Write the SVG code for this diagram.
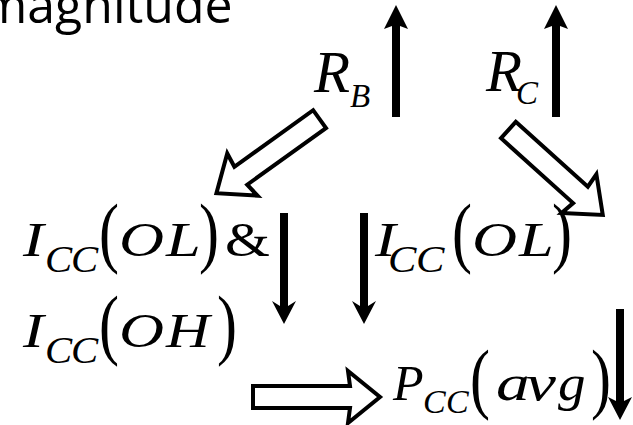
<svg xmlns="http://www.w3.org/2000/svg" width="633" height="425" viewBox="0 0 633 425">
<style>
.m{font-family:"Liberation Serif","Times New Roman",serif;font-style:italic;fill:#000}
.p{font-family:"Liberation Serif","Times New Roman",serif;fill:#000}
.t{font-family:"Open Sans","DejaVu Sans",sans-serif;fill:#000}
.solid{fill:#000;stroke:none}
.hollow{fill:#fff;stroke:#000;stroke-width:4;stroke-linejoin:miter;stroke-miterlimit:10}
</style>
<defs>
<path id="ha" d="M-130,-11 H-33 L-35,-26 L-3,0 L-35,26 L-33,11 H-130 Z"/>
</defs>
<rect width="633" height="425" fill="#fff"/>
<g id="title"><text class="t" x="-19" y="23" font-size="50">magnitude</text></g>
<g id="node-rb">
<text class="m" x="314" y="92" font-size="59">R</text>
<text class="m" x="350" y="107" font-size="33">B</text>
</g>
<g id="node-rc">
<text class="m" x="486" y="91" font-size="59">R</text>
<text class="m" x="516" y="104" font-size="33">C</text>
</g>
<g id="node-icc-ol-oh">
<text class="m" transform="matrix(1.3,0,0,1,23,256)" font-size="48">I</text>
<text class="m" transform="matrix(1.1,0,0,1,45,272)" font-size="37">C</text>
<text class="m" transform="matrix(1.1,0,0,1,71,272)" font-size="37">C</text>
<text class="p" transform="matrix(1.25,0,0,1.62,99,258)" font-size="48">(</text>
<text class="m" transform="matrix(1.3,0,0,1,119,256)" font-size="48">O</text>
<text class="m" transform="matrix(1.3,0,0,1,166,256)" font-size="48">L</text>
<text class="p" transform="matrix(1.25,0,0,1.62,199,258)" font-size="48">)</text>
<text class="p" transform="matrix(1.2,0,0,1,225,256)" font-size="48">&amp;</text>
<text class="m" transform="matrix(1.3,0,0,1,23,347)" font-size="48">I</text>
<text class="m" transform="matrix(1.1,0,0,1,45,363)" font-size="37">C</text>
<text class="m" transform="matrix(1.1,0,0,1,71,363)" font-size="37">C</text>
<text class="p" transform="matrix(1.25,0,0,1.62,99,350)" font-size="48">(</text>
<text class="m" transform="matrix(1.3,0,0,1,119,347)" font-size="48">O</text>
<text class="m" transform="matrix(1.26,0,0,1,166,347)" font-size="48">H</text>
<text class="p" transform="matrix(1.25,0,0,1.62,217,350)" font-size="48">)</text>
</g>
<g id="node-icc-ol">
<text class="m" transform="matrix(1.3,0,0,1,375,256)" font-size="48">I</text>
<text class="m" transform="matrix(1.15,0,0,1,388,272)" font-size="37">C</text>
<text class="m" transform="matrix(1.15,0,0,1,416,272)" font-size="37">C</text>
<text class="p" transform="matrix(1.25,0,0,1.62,452,258)" font-size="48">(</text>
<text class="m" transform="matrix(1.3,0,0,1,472,256)" font-size="48">O</text>
<text class="m" transform="matrix(1.3,0,0,1,519,256)" font-size="48">L</text>
<text class="p" transform="matrix(1.25,0,0,1.62,552,258)" font-size="48">)</text>
</g>
<g id="node-pcc">
<text class="m" x="393" y="400" font-size="50">P</text>
<text class="m" x="423" y="413" font-size="34">C</text>
<text class="m" x="446" y="413" font-size="34">C</text>
<text class="p" transform="matrix(1.25,0,0,1.62,470,404)" font-size="48">(</text>
<text class="m" transform="matrix(1.35,0,0,1,496,400)" font-size="50">a</text>
<text class="m" transform="matrix(1.35,0,0,1,526,400)" font-size="50">v</text>
<text class="m" transform="matrix(1.1,0,0,1,558,400)" font-size="50">g</text>
<text class="p" transform="matrix(1.25,0,0,1.62,591,404)" font-size="48">)</text>
</g>
<g id="connectors">
<path class="solid" d="M392,117 V26 L384,29 L396,5 L408,29 L400,26 V117 Z"/>
<path class="solid" d="M552,117 V26 L544,29 L556,5 L568,29 L560,26 V117 Z"/>
<path class="solid" d="M280,213 V306 L272,301 L284,324 L296,301 L288,306 V213 Z"/>
<path class="solid" d="M360,213 V306 L352,301 L364,324 L376,301 L368,306 V213 Z"/>
<path class="solid" d="M616,309 V401 L608,397 L620,420 L632,397 L624,401 V309 Z"/>
<use href="#ha" class="hollow" transform="translate(214,195) rotate(144.3)"/>
<use href="#ha" class="hollow" transform="translate(605,217) rotate(42)"/>
<use href="#ha" class="hollow" transform="translate(383,397)"/>
</g>
</svg>
